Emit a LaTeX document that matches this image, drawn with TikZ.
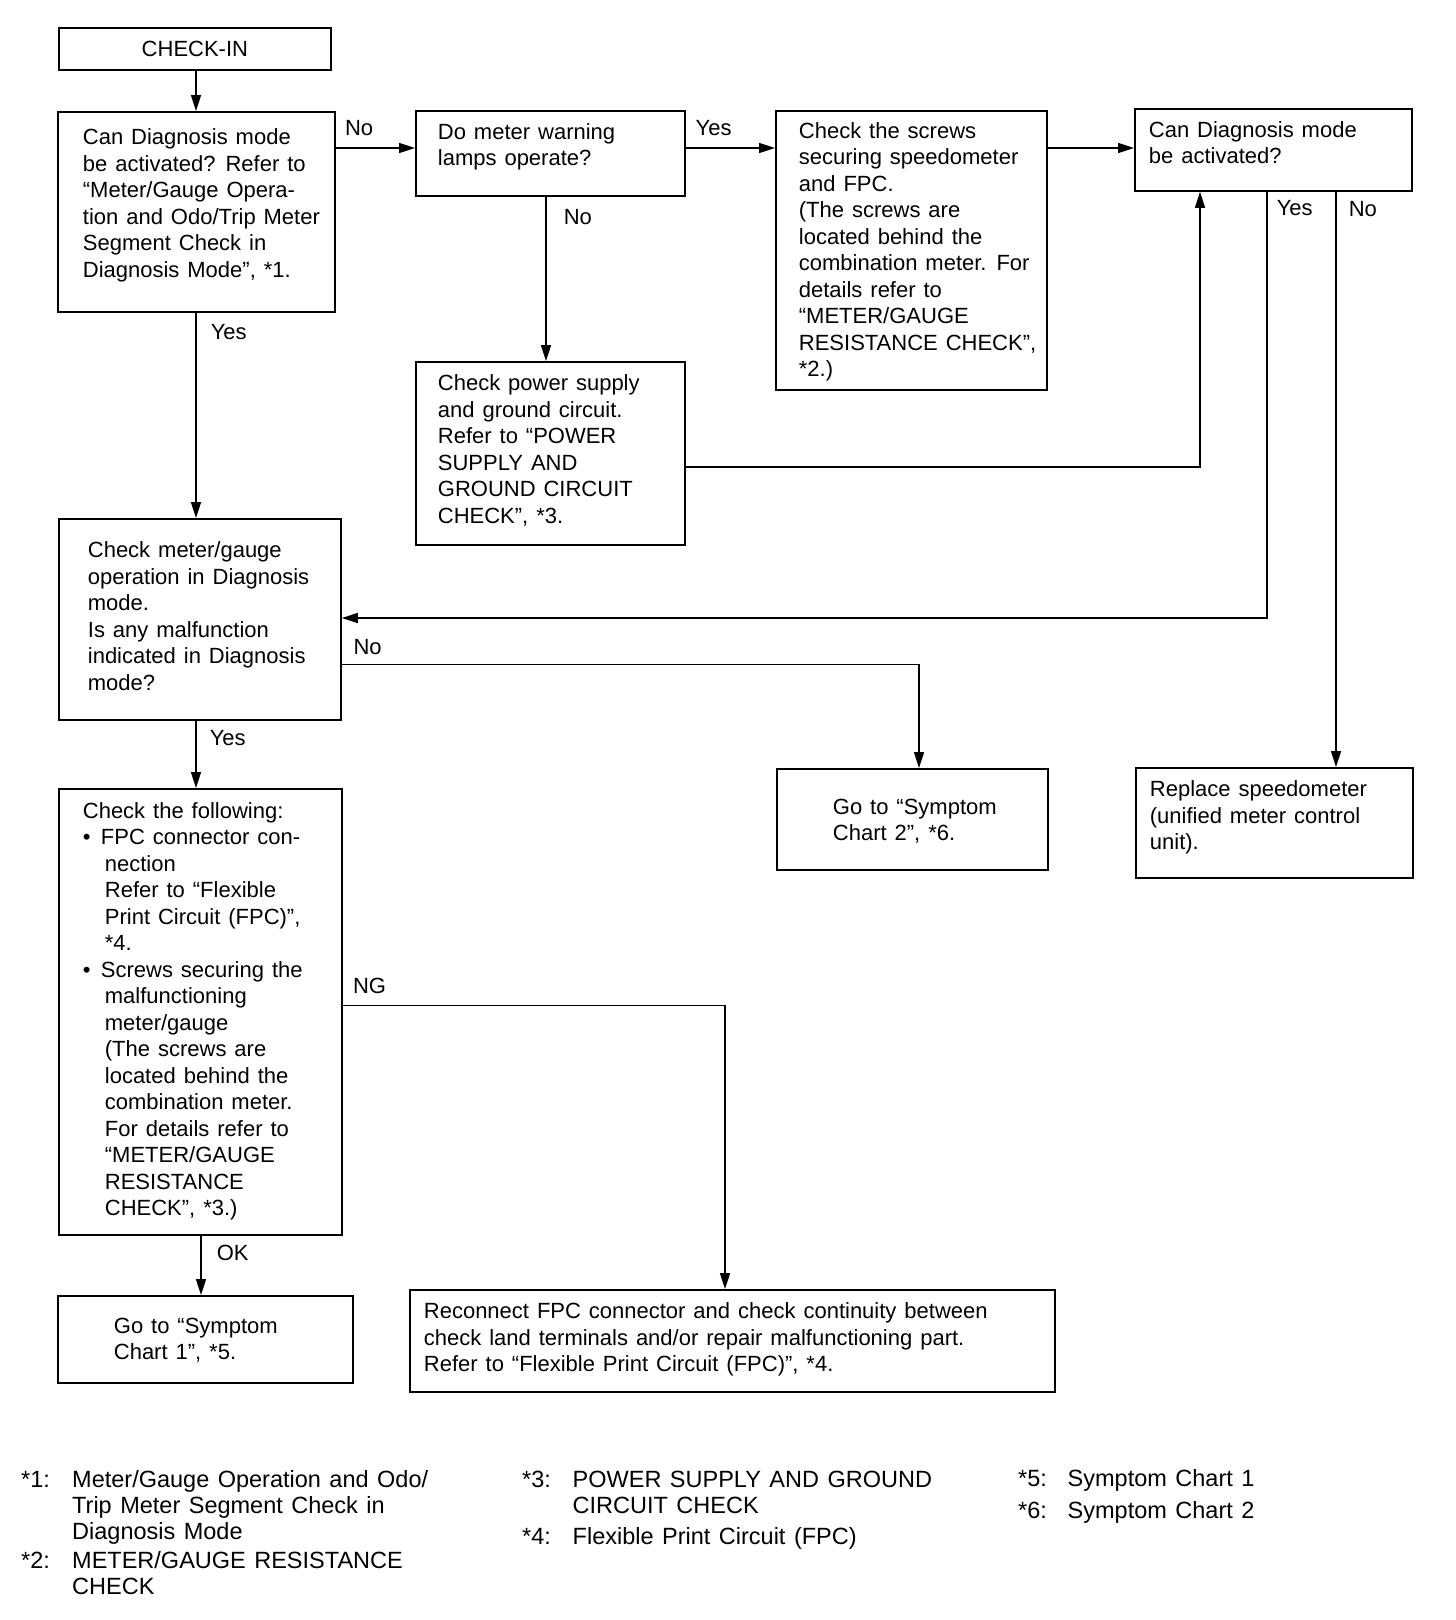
\documentclass[tikz,border=0pt]{standalone}
\usepackage{fontspec}
\setmainfont{Liberation Sans}[WordSpace=1.3]
\usetikzlibrary{arrows.meta}

\begin{document}
\begin{tikzpicture}[x=1pt, y=-1pt, >={Triangle[length=16pt,width=10pt]}, %Pfeilspitzen
		font=\fontsize{22}{26.5}\selectfont,
		box/.style={draw, line width=1.8pt, anchor=north west, inner sep=0pt},
		flow/.style={line width=1.6pt, ->},
		lbl/.style={inner sep=0pt, anchor=base west},
		note/.style={inner sep=0pt, anchor=base west, font=\fontsize{23.5}{25.8}\selectfont}]
	\useasboundingbox (0,0) rectangle (1456,1620);
	% Kaesten
	\node[box, minimum width=272, minimum height=42] (checkin) at (58,27) {CHECK-IN};
	\node[box, inner xsep=25, inner ysep=14.2] (diag1) at (57,111) {\parbox[t][171.6pt][t]{227pt}{\begin{tabular}[t]{@{}l@{}}Can Diagnosis mode\\ be activated? Refer to\\ ``Meter/Gauge Opera-\\ tion and Odo/Trip Meter\\ Segment Check in\\ Diagnosis Mode'', *1.\end{tabular}}};
	\node[box, inner xsep=22, inner ysep=9.7] (warn) at (415,110) {\parbox[t][65.6pt][t]{225pt}{\begin{tabular}[t]{@{}l@{}}Do meter warning\\ lamps operate?\end{tabular}}};
	\node[box, inner xsep=23, inner ysep=8.9] (screws) at (775,110) {\parbox[t][261.2pt][t]{225pt}{\begin{tabular}[t]{@{}l@{}}Check the screws\\ securing speedometer\\ and FPC.\\ (The screws are\\ located behind the\\ combination meter. For\\ details refer to\\ ``METER/GAUGE\\ RESISTANCE CHECK'',\\ {*}2.)\end{tabular}}};
	\node[box, inner xsep=14, inner ysep=9.8] (diag2) at (1134,108) {\parbox[t][62.4pt][t]{249pt}{\begin{tabular}[t]{@{}l@{}}Can Diagnosis mode\\ be activated?\end{tabular}}};
	\node[box, inner xsep=22, inner ysep=10.2] (power) at (415,361) {\parbox[t][162.6pt][t]{225pt}{\begin{tabular}[t]{@{}l@{}}Check power supply\\ and ground circuit.\\ Refer to ``POWER\\ SUPPLY AND\\ GROUND CIRCUIT\\ CHECK'', *3.\end{tabular}}};
	\node[box, inner xsep=29, inner ysep=20.2] (check) at (58,518) {\parbox[t][160.6pt][t]{224pt}{\begin{tabular}[t]{@{}l@{}}Check meter/gauge\\ operation in Diagnosis\\ mode.\\ Is any malfunction\\ indicated in Diagnosis\\ mode?\end{tabular}}};
	\node[box, inner xsep=56, inner ysep=26.7] (sym2) at (776,768) {\parbox[t][47.6pt][t]{159pt}{\begin{tabular}[t]{@{}l@{}}Go to ``Symptom\\ Chart 2'', *6.\end{tabular}}};
	\node[box, inner xsep=14, inner ysep=10.2] (replace) at (1135,767) {\parbox[t][89.6pt][t]{249pt}{\begin{tabular}[t]{@{}l@{}}Replace speedometer\\ (unified meter control\\ unit).\end{tabular}}};
	\node[box, inner xsep=24, inner ysep=10.7] (follow) at (58,788) {\parbox[t][424.6pt][t]{235pt}{\begin{tabular}[t]{@{}l@{}}Check the following:\\
		\makebox[18pt][l]{\textbullet}FPC connector con-\\
		\hspace*{22pt}nection\\
		\hspace*{22pt}Refer to ``Flexible\\
		\hspace*{22pt}Print Circuit (FPC)'',\\
		\hspace*{22pt}*4.\\
		\makebox[18pt][l]{\textbullet}Screws securing the\\
		\hspace*{22pt}malfunctioning\\
		\hspace*{22pt}meter/gauge\\
		\hspace*{22pt}(The screws are\\
		\hspace*{22pt}located behind the\\
		\hspace*{22pt}combination meter.\\
		\hspace*{22pt}For details refer to\\
		\hspace*{22pt}``METER/GAUGE\\
		\hspace*{22pt}RESISTANCE\\
		\hspace*{22pt}CHECK'', *3.)\end{tabular}}};
	\node[box, inner xsep=56, inner ysep=18.7] (sym1) at (57,1295) {\parbox[t][49.6pt][t]{183pt}{\begin{tabular}[t]{@{}l@{}}Go to ``Symptom\\ Chart 1'', *5.\end{tabular}}};
	\node[box, inner xsep=14, inner ysep=10.2] (recon) at (409,1289) {\parbox[t][81.6pt][t]{617pt}{\begin{tabular}[t]{@{}l@{}}Reconnect FPC connector and check continuity between\\ check land terminals and/or repair malfunctioning part.\\ Refer to ``Flexible Print Circuit (FPC)'', *4.\end{tabular}}};
	% Hilfspunkte fuer Leitungen
	\coordinate (toprow) at (0,148);
	\coordinate (pwrrow) at (0,467);
	\coordinate (yesrow) at (0,618);
	\coordinate (norow) at (0,664.5);
	\coordinate (ngrow) at (0,1005.5);
	\coordinate (xleft) at (196,0);
	\coordinate (xwarn) at (546,0);
	\coordinate (xrecon) at (725,0);
	\coordinate (xsym2) at (919,0);
	\coordinate (xback) at (1200,0);
	\coordinate (xyes) at (1267,0);
	\coordinate (xno) at (1336,0);
	\coordinate (xok) at (201,0);
	% Pfeile
	\draw[flow] (checkin.south -| xleft) -- (diag1.north -| xleft);
	\draw[flow] (diag1.east |- toprow) -- node[lbl, pos=0, xshift=8.5, yshift=12.5] (l1) {No} (warn.west |- toprow);
	\draw[flow] (warn.east |- toprow) -- node[lbl, pos=0, xshift=9, yshift=12.5] (l2) {Yes} (screws.west |- toprow);
	\draw[flow] (screws.east |- toprow) -- (diag2.west |- toprow);
	\draw[flow] (warn.south -| xwarn) -- node[lbl, pos=0, xshift=17, yshift=-27.5] (l3) {No} (power.north -| xwarn);
	\draw[flow] (power.east |- pwrrow) -| (diag2.south -| xback);
	\draw[flow] (diag1.south -| xleft) -- node[lbl, pos=0, xshift=14, yshift=-26.5] (l4) {Yes} (check.north -| xleft);
	\draw[flow] (diag2.south -| xyes) |- node[lbl, pos=0, xshift=9, yshift=-23.5] (l5) {Yes} (check.east |- yesrow);
	\draw[flow] (diag2.south -| xno) -- node[lbl, pos=0, xshift=12, yshift=-24.5] (l6) {No} (replace.north -| xno);
	\draw[flow] (check.east |- norow) -| node[lbl, pos=0, xshift=11, yshift=10] (l7) {No} (sym2.north -| xsym2);
	\draw[flow] (check.south -| xleft) -- node[lbl, pos=0, xshift=13, yshift=-24.5] (l8) {Yes} (follow.north -| xleft);
	\draw[flow] (follow.east |- ngrow) -| node[lbl, pos=0, xshift=9.5, yshift=12] (l9) {NG} (recon.north -| xrecon);
	\draw[flow] (follow.south -| xok) -- node[lbl, pos=0, xshift=15, yshift=-24.5] (l10) {OK} (sym1.north -| xok);
	% Fussnoten
	\node[note] (fn1) at (21,1487.4) {\begin{tabular}[t]{@{}p{51pt}@{}l@{}}*1: & Meter/Gauge Operation and Odo/\\ & Trip Meter Segment Check in\\ & Diagnosis Mode\\[4pt] *2: & METER/GAUGE RESISTANCE\\ & CHECK\end{tabular}};
	\node[note] (fn3) at (522,1487.4) {\begin{tabular}[t]{@{}p{50.5pt}@{}l@{}}*3: & POWER SUPPLY AND GROUND\\ & CIRCUIT CHECK\\[5pt] *4: & Flexible Print Circuit (FPC)\end{tabular}};
	\node[note] (fn5) at (1018,1486.2) {\begin{tabular}[t]{@{}p{49.5pt}@{}l@{}}*5: & Symptom Chart 1\\[6pt] *6: & Symptom Chart 2\end{tabular}};
\end{tikzpicture}
\end{document}
